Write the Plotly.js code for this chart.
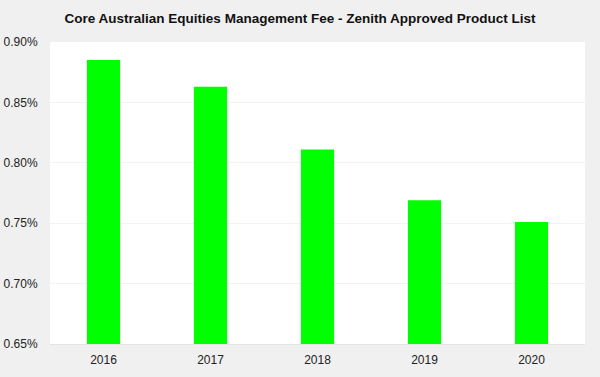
<!DOCTYPE html>
<html><head><meta charset="utf-8">
<script src="https://cdn.plot.ly/plotly-3.0.1.min.js"></script>
<style>html,body{margin:0;padding:0;background:#f0f0f0;}#c{width:600px;height:377px;}</style>
</head><body><div id="c"></div>
<script>
const years = ['2016','2017','2018','2019','2020'];
const fees = [0.885, 0.863, 0.811, 0.769, 0.751];
const tickVals = [0.65, 0.70, 0.75, 0.80, 0.85, 0.90];
const tickText = ['0.65%','0.70%','0.75%','0.80%','0.85%','0.90%'];
const font = "'Liberation Sans Narrow', 'Arial Narrow', 'Liberation Sans', Arial, sans-serif";
Plotly.newPlot('c', [{
  type: 'bar', x: years, y: fees,
  marker: {color: '#00ff00'},
  hoverinfo: 'none'
}], {
  width: 600, height: 377,
  paper_bgcolor: '#f0f0f0', plot_bgcolor: '#ffffff',
  margin: {l: 50, r: 15, t: 42, b: 33},
  bargap: 0.69,
  showlegend: false,
  title: {text: '<b>Core Australian Equities Management Fee - Zenith Approved Product List</b>',
    font: {family: "'Liberation Sans', Arial, sans-serif", size: 13.5, color: '#111'},
    x: 0.5, xanchor: 'center', y: 0.952, yanchor: 'middle'},
  xaxis: {type: 'category', showgrid: false, zeroline: false,
    showline: true, linecolor: '#e4e4e4', linewidth: 1,
    tickfont: {family: font, size: 12, color: '#222'}, ticks: 'outside', ticklen: 5, tickcolor: 'rgba(0,0,0,0)'},
  yaxis: {range: [0.65, 0.90], tickvals: tickVals, ticktext: tickText,
    showgrid: true, gridcolor: '#f3f3f3', zeroline: false, showline: false,
    tickfont: {family: font, size: 12, color: '#222'}, ticks: 'outside', ticklen: 9, tickcolor: 'rgba(0,0,0,0)'}
}, {staticPlot: true});
</script></body></html>
